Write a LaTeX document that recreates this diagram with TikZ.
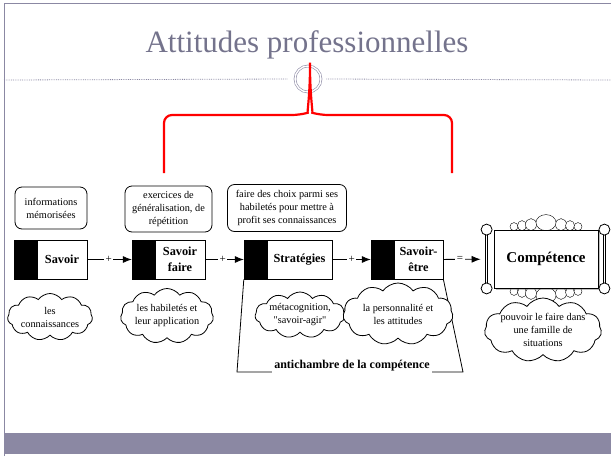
\documentclass[tikz,border=0pt]{standalone}
\usepackage{fontspec}
\setmainfont{Liberation Serif}
\usetikzlibrary{arrows.meta,shapes.symbols,shadows,backgrounds}
\definecolor{slide}{RGB}{139,136,163}
\definecolor{titlegray}{RGB}{116,115,140}
\tikzset{
    hint/.style={draw, rounded corners=7pt, align=center, inner sep=1pt,
        font=\fontsize{10.3}{13}\selectfont},
    item/.style={draw, fill=white, minimum height=39pt, align=center, inner sep=1pt,
        font=\bfseries\fontsize{12.3}{16}\selectfont},
    tab/.style={draw, fill=black, minimum width=22pt, minimum height=39pt,
        inner sep=0pt, anchor=east},
    link/.style={-{Latex[length=9pt,width=7pt]}},
    sign/.style={fill=white, inner sep=1.5pt, font=\fontsize{11}{11}\selectfont},
    bubble/.style={cloud, draw, fill=white, cloud puffs=11, cloud puff arc=110,
        cloud ignores aspect, inner sep=0pt},
    bubbletext/.style={align=center, font=\fontsize{10.3}{13}\selectfont},
}
\begin{document}
\begin{tikzpicture}[x=1pt,y=-1pt,line width=0.8pt]
\useasboundingbox (0,0) rectangle (611,456);
% slide frame
\draw[slide] (4,456) -- (4,3) -- (611,3);
\fill[slide] (4,433) rectangle (611,454);
\node[text=titlegray, font=\fontsize{31}{31}\selectfont, anchor=base] (head) at (307,52) {Attitudes professionnelles};
\node[circle, draw=slide, line width=0.6pt, double, double distance=1.4pt, minimum size=26pt, inner sep=0pt] (knot) at (308,79) {};
\draw[slide, densely dotted] (4,80) -- ([xshift=-7pt]knot.west);
\draw[slide, densely dotted] ([xshift=5pt]knot.east) -- (611,80);

% brace
\draw[red, line width=2.2pt, rounded corners=8pt] (164,173) -- (164,115) -- (300,115)
    .. controls (307,113) and (310,95) .. (310,58)
    .. controls (310,95) and (313,113) .. (320,115) -- (452,115) -- (452,173);

% what each step means
\node[hint, minimum width=72pt, minimum height=42pt] (memo) at (51,208) {informations\\mémorisées};
\node[hint, minimum width=87pt, minimum height=46pt] (drill) at (168.5,209) {exercices de\\généralisation, de\\répétition};
\node[hint, minimum width=119pt, minimum height=47pt] (choix) at (287,208) {faire des choix parmi ses\\habiletés pour mettre à\\profit ses connaissances};

% the four steps
\node[item, minimum width=50pt] (savoir) at (62,259.5) {Savoir};
\node[tab] (savoirL) at (savoir.west) {};
\node[item, minimum width=50pt] (faire) at (180,259.5) {Savoir\\faire};
\node[tab] (faireL) at (faire.west) {};
\node[item, minimum width=65pt] (strat) at (299.5,259.5) {Stratégies};
\node[tab] (stratL) at (strat.west) {};
\node[item, minimum width=49pt] (etre) at (418.5,259.5) {Savoir-\\être};
\node[tab] (etreL) at (etre.west) {};

\node[draw, fill=white, minimum width=104pt, minimum height=58pt,
    drop shadow={shadow xshift=2pt, shadow yshift=-2pt, fill=gray},
    font=\bfseries\fontsize{15}{18}\selectfont] (comp) at (546,259) {Compétence};
\begin{scope}[on background layer]
\foreach \dx/\rx/\ry in {-32/4/4, -24/4.5/5, -15/5.5/6, 15/5.5/6, 24/4.5/5, 32/4/4, 0/10/8} {
    \draw[fill=white] ([xshift=\dx pt, yshift=\ry pt-1pt]comp.north) ellipse (\rx pt and \ry pt);
    \draw[fill=white] ([xshift=\dx pt, yshift=-\ry pt+1pt]comp.south) ellipse (\rx pt and \ry pt);
}
\end{scope}
\draw[double, double distance=1.2pt] ([xshift=-7pt]comp.north west) -- ([xshift=-7pt]comp.south west);
\draw[double, double distance=1.2pt] ([xshift=6pt]comp.north east) -- ([xshift=6pt]comp.south east);
\foreach \c/\s in {north west/-7, south west/-7, north east/6, south east/6}
    \draw[fill=white] ([xshift=\s pt]comp.\c) circle (5.5pt);

\draw[link] (savoir) -- (faireL) node[sign, pos=0.48] {+};
\draw[link] (faire) -- (stratL) node[sign, pos=0.45] {+};
\draw[link] (strat) -- (etreL) node[sign, pos=0.5] {+};
\draw[link, shorten >=13pt] (etre) -- (comp) node[sign, pos=0.33] {=};

% antechamber
\node[font=\bfseries\fontsize{12}{14}\selectfont, anchor=base, inner sep=2pt] (anti) at (352,368) {antichambre de la compétence};
\coordinate (bl) at (237,372);
\coordinate (br) at (463,372);
\draw (stratL.south west) -- (bl) -- (bl -| anti.west);
\draw (br -| anti.east) -- (br) -- (etre.south east);

% clouds
\node[bubble, minimum width=85pt, minimum height=47pt,
    label={[bubbletext]center:{les\\connaissances}}] (know) at (50,317) {};
\node[bubble, minimum width=93pt, minimum height=55pt,
    label={[bubbletext]center:{les habiletés et\\leur application}}] (skill) at (167,316) {};
\node[bubble, minimum width=90pt, minimum height=46pt,
    label={[bubbletext]center:{métacognition,\\\textquotedbl savoir-agir\textquotedbl}}] (meta) at (300,315) {};
\node[bubble, minimum width=110pt, minimum height=62pt,
    label={[bubbletext]center:{la personnalité et\\les attitudes}}] (perso) at (398,314) {};
\node[bubble, minimum width=117pt, minimum height=64pt,
    label={[bubbletext]center:{pouvoir le faire dans\\une famille de\\situations}}] (famille) at (543,330) {};
\end{tikzpicture}
\end{document}
